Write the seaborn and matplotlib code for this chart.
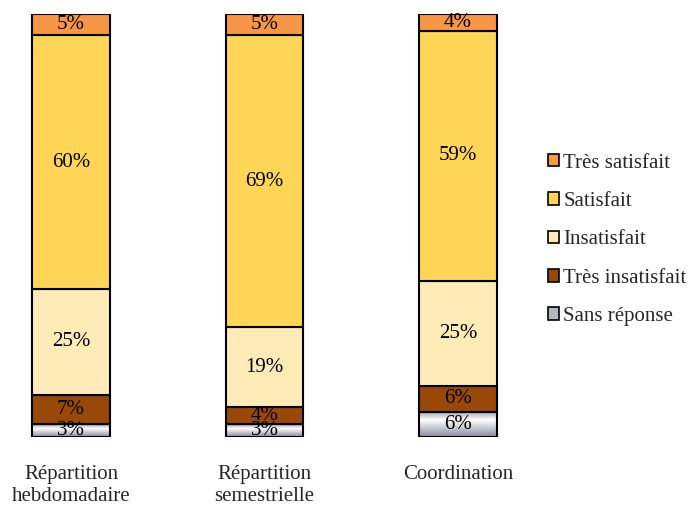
import matplotlib
matplotlib.use("Agg")
import matplotlib.pyplot as plt
import matplotlib.colors as mcolors
import numpy as np
import seaborn as sns

categories = ["Répartition\nhebdomadaire", "Répartition\nsemestrielle", "Coordination"]

# stacked from the bottom up
series_names = ["Sans réponse", "Très insatisfait", "Insatisfait", "Satisfait", "Très satisfait"]
sans_reponse = [3, 3, 6]
tres_insatisfait = [7, 4, 6]
insatisfait = [25, 19, 25]
satisfait = [60, 69, 59]
tres_satisfait = [5, 5, 4]

series_values = [sans_reponse, tres_insatisfait, insatisfait, satisfait, tres_satisfait]
series_colors = ["#b4b7c2", "#994807", "#ffebb8", "#ffd557", "#f79646"]

sns.set_theme(style="white")
plt.rcParams["font.family"] = ["Liberation Serif", "DejaVu Serif"]

fig = plt.figure(figsize=(6.94, 5.07), dpi=100)
ax = fig.add_axes([0.0187, 0.138, 0.7248, 0.834])

bottom = np.zeros(len(categories))
for name, vals, col in zip(series_names, series_values, series_colors):
    sns.barplot(x=categories, y=vals, bottom=bottom, color=col, width=0.4,
                edgecolor="black", linewidth=1.5, label=name, ax=ax,
                saturation=1, legend=False)
    bottom = bottom + np.array(vals)

for cont, vals in zip(ax.containers, series_values):
    ax.bar_label(cont, labels=[f"{v}%" for v in vals], label_type="center",
                 fontsize=15, color="black")

# metallic gradient for "Sans réponse"
grad = mcolors.LinearSegmentedColormap.from_list(
    "metal", ["#8a8d99", "#c3c6cf", "#ffffff", "#9b9ea8"])
gimg = np.linspace(0, 1, 64).reshape(-1, 1)
for p in ax.containers[0]:
    x0, y0 = p.get_x(), p.get_y()
    w, h = p.get_width(), p.get_height()
    im = ax.imshow(gimg, cmap=grad, aspect="auto", origin="lower",
                   extent=[x0, x0 + w, y0, y0 + h], zorder=p.get_zorder() - 0.1)
    im.set_clip_path(p)
    p.set_facecolor("none")

ax.set_xlim(-0.3, 2.3)
ax.set_ylim(0, 100)
ax.set_yticks([])
ax.set_ylabel("")
ax.tick_params(axis="x", length=0, pad=20, labelsize=15)
for lbl in ax.get_xticklabels():
    lbl.set_linespacing(1.25)
for s in ax.spines.values():
    s.set_visible(False)

handles = [plt.Rectangle((0, 0), 1, 1, facecolor=c, edgecolor="black", linewidth=1.2)
           for c in series_colors]
fig.legend(handles[::-1], series_names[::-1], loc="center left",
           bbox_to_anchor=(0.762, 0.527), frameon=False, fontsize=15,
           handlelength=0.55, handleheight=0.55, handletextpad=0.2,
           labelspacing=0.93)

fig.savefig("out.png", dpi=100)
